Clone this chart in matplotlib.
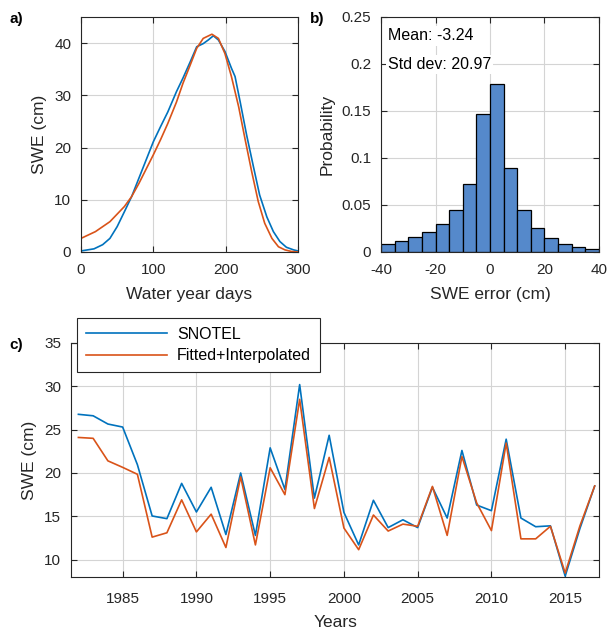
import numpy as np
import matplotlib
matplotlib.use('Agg')
import matplotlib.pyplot as plt

plt.rcParams['font.family'] = ['Liberation Sans', 'DejaVu Sans']
plt.rcParams['axes.unicode_minus'] = False

# panel a: mean SWE curves over the water year
days_snotel = [0, 18, 30, 40, 50, 60, 70, 80, 90, 100, 110, 120, 132, 141, 151,
               160, 169, 176, 183, 190, 199, 208, 213, 220, 229, 238, 247, 257,
               266, 275, 284, 294, 300]
swe_snotel = [0.2, 0.6, 1.4, 2.6, 4.85, 7.7, 10.6, 14.1, 17.6, 21.1, 24.0, 26.8,
              30.7, 33.3, 36.4, 39.3, 39.9, 40.6, 41.4, 40.6, 38.4, 35.2, 33.6,
              28.8, 22.4, 16.6, 10.9, 6.7, 3.9, 2.0, 0.9, 0.4, 0.2]
days_fit = [0, 20, 40, 60, 70, 80, 100, 110, 120, 132, 141, 151, 160, 169, 181,
            190, 199, 208, 218, 227, 236, 245, 254, 264, 273, 282, 291, 300]
swe_fit = [2.6, 3.9, 5.8, 8.7, 10.6, 13.1, 18.6, 21.5, 24.6, 28.7, 32.3, 35.8,
           39.0, 40.9, 41.7, 40.9, 38.0, 33.6, 27.8, 21.5, 15.4, 9.7, 5.5, 2.6,
           1.0, 0.4, 0.1, 0.0]

# panel b: histogram of SWE error
bin_edges = np.arange(-40, 45, 5)
prob = [0.0089, 0.0117, 0.0156, 0.0217, 0.030, 0.045, 0.0725, 0.147,
        0.1785, 0.089, 0.0445, 0.0256, 0.0149, 0.0089, 0.0057, 0.0036]

# panel c: annual SWE
years = list(range(1982, 2018))
snotel = [26.77, 26.6, 25.65, 25.3, 20.96, 15.04, 14.73, 18.8, 15.5, 18.35,
          12.9, 20.0, 12.8, 22.9, 18.1, 30.2, 17.1, 24.35, 15.45, 11.7, 16.85,
          13.7, 14.6, 13.7, 18.35, 14.8, 22.6, 16.3, 15.65, 23.9, 14.8, 13.8,
          13.9, 8.1, 13.6, 18.5]
fitted = [24.1, 24.0, 21.4, 20.65, 19.85, 12.6, 13.1, 16.9, 13.2, 15.25,
          11.4, 19.55, 11.7, 20.6, 17.5, 28.5, 15.9, 21.8, 13.65, 11.15, 15.15,
          13.3, 14.1, 13.85, 18.45, 12.8, 21.9, 16.55, 13.35, 23.45, 12.4, 12.4,
          13.85, 8.45, 13.9, 18.5]

blue = '#0072BD'
orange = '#D95319'
axcol = '#262626'


def style(ax, xpad=8):
    ax.grid(True, color='#d4d4d4', linewidth=0.8)
    ax.set_axisbelow(True)
    ax.tick_params(direction='in', top=True, right=True, labelsize=11,
                   colors=axcol, length=4)
    ax.tick_params(axis='x', pad=xpad)
    ax.tick_params(axis='y', pad=7)
    for s in ax.spines.values():
        s.set_color(axcol)
        s.set_linewidth(0.8)


fig = plt.figure(figsize=(6.07, 6.29), dpi=100)

# a)
ax1 = fig.add_axes([0.1334, 0.5994, 0.3575, 0.3736])
ax1.plot(days_snotel, swe_snotel, color=blue, lw=1.2)
ax1.plot(days_fit, swe_fit, color=orange, lw=1.2)
ax1.set_xlim(0, 300)
ax1.set_ylim(0, 45)
ax1.set_xticks([0, 100, 200, 300])
ax1.set_yticks([0, 10, 20, 30, 40])
ax1.set_xlabel('Water year days', fontsize=12.5, color=axcol, labelpad=7)
ax1.set_ylabel('SWE (cm)', fontsize=12.5, color=axcol, labelpad=5.5)
style(ax1)
fig.text(0.016, 0.970, 'a)', fontsize=11, fontweight='bold', va='center')

# b)
ax2 = fig.add_axes([0.6277, 0.5994, 0.3591, 0.3736])
ax2.bar(bin_edges[:-1], prob, width=5, align='edge', color='#5589cb',
        edgecolor='black', linewidth=0.9)
ax2.set_xlim(-40, 40)
ax2.set_ylim(0, 0.25)
ax2.set_xticks([-40, -20, 0, 20, 40])
ax2.set_yticks([0, 0.05, 0.1, 0.15, 0.2, 0.25])
ax2.set_yticklabels(['0', '0.05', '0.1', '0.15', '0.2', '0.25'])
ax2.set_xlabel('SWE error (cm)', fontsize=12.5, color=axcol, labelpad=7)
ax2.set_ylabel('Probability', fontsize=12.5, color=axcol, labelpad=5)
style(ax2)
ax2.text(-37.5, 0.2298, 'Mean: -3.24', fontsize=11.5, va='center',
         bbox=dict(facecolor='white', edgecolor='none', pad=1.5))
ax2.text(-37.5, 0.199, 'Std dev: 20.97', fontsize=11.5, va='center',
         bbox=dict(facecolor='white', edgecolor='none', pad=1.5))
fig.text(0.511, 0.970, 'b)', fontsize=11, fontweight='bold', va='center')

# c)
ax3 = fig.add_axes([0.117, 0.0827, 0.870, 0.372])
ax3.plot(years, snotel, color=blue, lw=1.2, label='SNOTEL')
ax3.plot(years, fitted, color=orange, lw=1.2, label='Fitted+Interpolated')
ax3.set_xlim(1981.5, 2017.3)
ax3.set_ylim(8, 35)
ax3.set_xticks([1985, 1990, 1995, 2000, 2005, 2010, 2015])
ax3.set_yticks([10, 15, 20, 25, 30, 35])
ax3.set_xlabel('Years', fontsize=12.5, color=axcol, labelpad=7)
ax3.set_ylabel('SWE (cm)', fontsize=12.5, color=axcol, labelpad=5)
style(ax3, xpad=10.5)
leg = ax3.legend(loc='upper left', bbox_to_anchor=(77 / 607, 1 - 318 / 629),
                 bbox_transform=fig.transFigure, fontsize=11.5, fancybox=False,
                 framealpha=1, edgecolor=axcol, handlelength=5.1,
                 handletextpad=0.6, borderaxespad=0, borderpad=0.55,
                 labelspacing=0.4)
leg.get_frame().set_linewidth(0.8)
fig.text(0.016, 0.4515, 'c)', fontsize=11, fontweight='bold', va='center')

fig.savefig('out.png', dpi=100)
